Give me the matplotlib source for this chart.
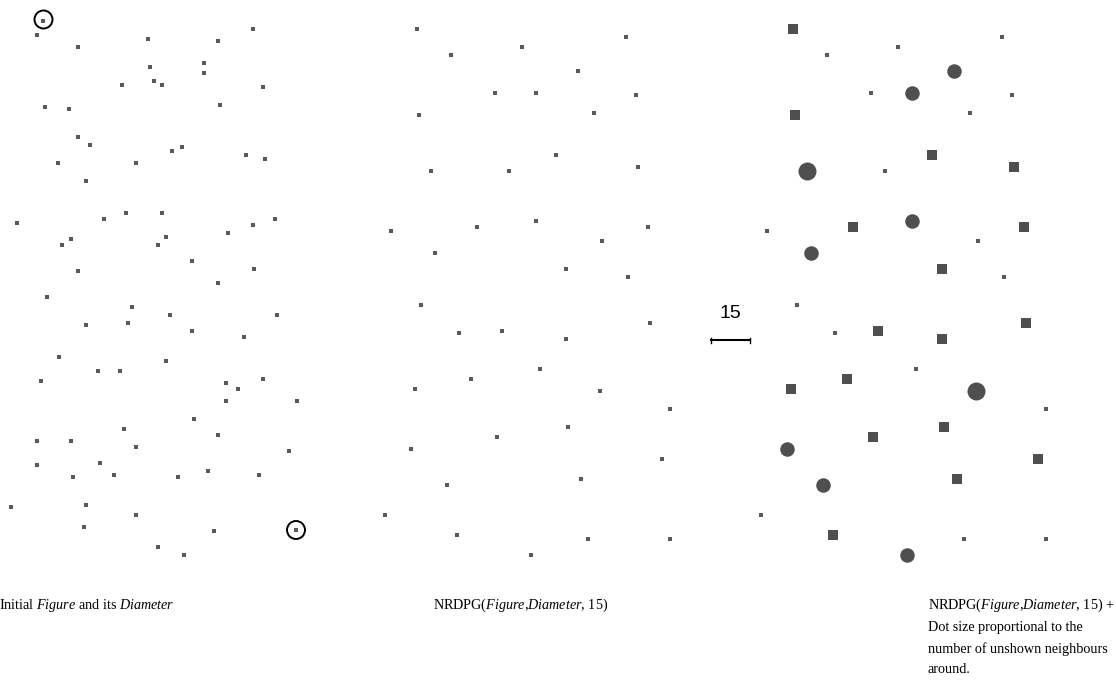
import numpy as np
import matplotlib.pyplot as plt
from matplotlib.patches import Circle

plt.rcParams['mathtext.fontset'] = 'custom'
plt.rcParams['mathtext.rm'] = 'Liberation Serif'
plt.rcParams['mathtext.it'] = 'Liberation Serif:italic'

# initial figure (x, y), pixel-like units, y going down
fig_x = [43, 37, 78, 148, 218, 253, 150, 204, 204, 154, 162, 122, 263, 45, 69, 220,
         78, 90, 172, 182, 246, 265, 58, 136, 86,
         17, 104, 126, 162, 253, 275, 228, 71, 62, 166, 158, 192, 78, 254, 218, 47,
         132, 170, 277, 86, 128, 192, 244, 59, 166, 98, 120,
         41, 226, 238, 263, 226, 297, 194, 124, 218, 37, 71, 136, 289, 37, 100, 73,
         114, 178, 208, 259, 11, 86, 136, 84, 214, 296, 158, 184]
fig_y = [21, 35, 47, 39, 41, 29, 67, 63, 73, 81, 85, 85, 87, 107, 109, 105,
         137, 145, 151, 147, 155, 159, 163, 163, 181,
         223, 219, 213, 213, 225, 219, 233, 239, 245, 237, 245, 261, 271, 269, 283, 297,
         307, 315, 315, 325, 323, 331, 337, 357, 361, 371, 371,
         381, 383, 389, 379, 401, 401, 419, 429, 435, 441, 441, 447, 451, 465, 463, 477,
         475, 477, 471, 475, 507, 505, 515, 527, 531, 530, 547, 555]

# the two ends of the diameter
diam_x = [43.5, 296]
diam_y = [19.5, 530]

# points kept by NRDPG, and how many unshown neighbours each one has
kept_x = [41, 75, 146, 250, 202, 119, 160, 260, 43, 218, 180, 55, 133, 262,
          15, 101, 160, 272, 226, 59, 190, 252,
          45, 83, 126, 190, 274, 164, 95, 39, 224, 294, 192, 121, 35, 286, 205, 71,
          9, 81, 212, 294, 155]
kept_y = [29, 55, 47, 37, 71, 93, 93, 95, 115, 113, 155, 171, 171, 167,
          231, 227, 221, 227, 241, 253, 269, 277,
          305, 333, 331, 339, 323, 369, 379, 389, 391, 409, 427, 437, 449, 459, 479, 485,
          515, 535, 539, 539, 555]
unshown = [1, 0, 0, 0, 2, 0, 2, 0, 1, 0, 1, 3, 0, 1,
           0, 1, 2, 1, 0, 2, 1, 0,
           0, 0, 1, 1, 1, 0, 1, 1, 3, 0, 1, 1, 2, 1, 1, 2,
           0, 1, 0, 0, 2]

scale_len = 15
scale_px = 39

panel_x0 = [0, 376, 752]
dot_col = '#4f4f4f'

fig = plt.figure(figsize=(11.16, 6.86), dpi=100)
ax = fig.add_axes([0, 0, 1, 1])
ax.set_xlim(0, 1116)
ax.set_ylim(686, 0)
ax.axis('off')

px = 72 / fig.dpi  # one pixel in points

# panel 1
x1 = np.array(fig_x) + panel_x0[0]
ax.scatter(x1, fig_y, s=(3.5 * px) ** 2, marker='s', color='#5a5a5a', lw=0)
for cx, cy in zip(diam_x, diam_y):
    ax.add_patch(Circle((cx + panel_x0[0], cy), 9, fill=False, ec='black', lw=1.4))

# panel 2
x2 = np.array(kept_x) + panel_x0[1]
ax.scatter(x2, kept_y, s=(3.5 * px) ** 2, marker='s', color='#5a5a5a', lw=0)

# panel 3 - same points, dot size from unshown neighbours
x3 = np.array(kept_x) + panel_x0[2]
ky = np.array(kept_y)
cnt = np.array(unshown)
diam = {0: 3.5, 1: 10, 2: 14.5, 3: 18}
for k in range(4):
    m = cnt == k
    mk = 's' if k < 2 else 'o'
    col = '#5a5a5a' if k == 0 else dot_col
    ax.scatter(x3[m], ky[m], s=(diam[k] * px) ** 2, marker=mk, color=col, lw=0)

# scale bar
bx0 = 711
ax.plot([bx0, bx0 + scale_px], [340, 340], color='black', lw=1.5)
ax.plot([bx0, bx0], [337.5, 342.5], color='black', lw=1)
ax.plot([bx0 + scale_px, bx0 + scale_px], [337.5, 342.5], color='black', lw=1)
ax.text(bx0 + scale_px / 2, 313, str(scale_len), ha='center', va='center',
        fontsize=14, family='Liberation Sans')

# captions
cap = dict(fontsize=10.2, family='Liberation Serif', va='top', ha='left')
ax.text(-1, 597, r'Initial $\mathit{Figure}$ and its $\mathit{Diameter}$', **cap)
ax.text(433, 597, r'NRDPG($\mathit{Figure}$,$\mathit{Diameter}$, 15)', **cap)
ax.text(928, 597, 'NRDPG($\\mathit{Figure}$,$\\mathit{Diameter}$, 15) +\n'
        'Dot size proportional to the\n'
        'number of unshown neighbours\n'
        'around.', linespacing=1.7, **cap)

fig.savefig('out.png', dpi=100)
